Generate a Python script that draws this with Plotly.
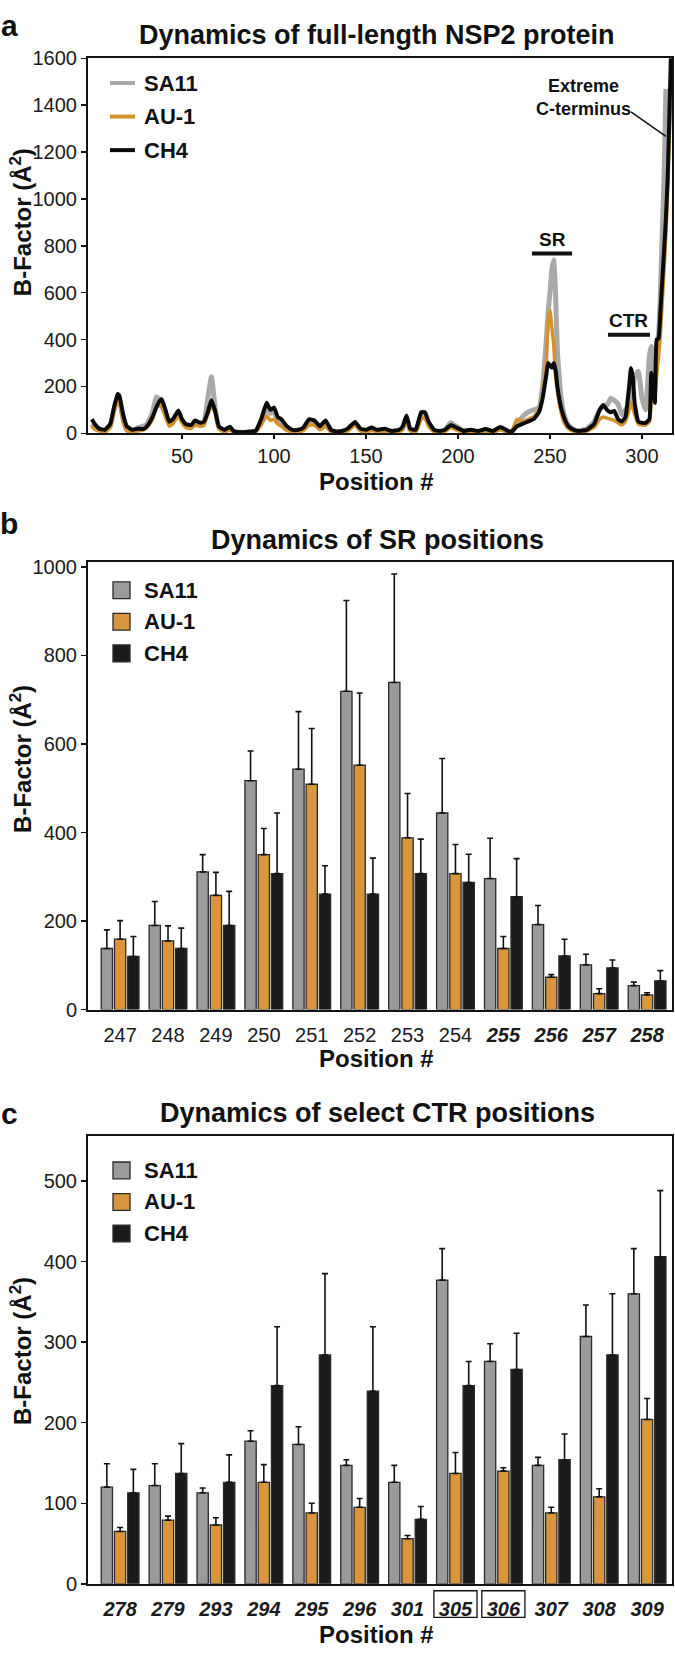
import plotly.graph_objects as go

W, H = 675, 1657
FONT = "Liberation Sans, Arial, Helvetica, sans-serif"

# ---------------- Panel a: full-length NSP2 B-factors ----------------
pos_a = [1, 3, 5, 8, 11, 13, 15, 16, 18, 20,
         23, 26, 29, 31, 34, 36, 38, 39, 41, 43,
         45, 48, 50, 52, 55, 57, 60, 62, 64, 66,
         68, 70, 73, 76, 78, 81, 84, 87, 90, 93,
         96, 98, 100, 102, 104, 107, 110, 113, 116, 119,
         122, 125, 128, 131, 134, 137, 140, 144, 147, 150,
         153, 156, 160, 164, 168, 170, 172, 174, 177, 180,
         182, 184, 187, 190, 193, 196, 199, 203, 207, 211,
         215, 219, 223, 226, 229, 232, 235, 238, 241, 244,
         246, 248, 249, 250, 251, 252, 253, 254, 256, 258,
         260, 263, 266, 270, 274, 277, 279, 281, 283, 285,
         287, 289, 291, 293, 294, 295, 296, 298, 300, 302,
         304, 305, 306, 307, 308, 309, 310, 311, 312, 313,
         314, 315, 316]

sa11_a = [40, 20, 15, 10, 30, 100, 150, 140, 60, 15,
          10, 25, 30, 40, 90, 155, 145, 130, 90, 40,
          55, 90, 55, 35, 30, 45, 40, 50, 150, 241,
          110, 25, 10, 20, 8, 5, 5, 5, 10, 50,
          110, 85, 90, 55, 45, 20, 10, 10, 20, 45,
          45, 25, 40, 10, 5, 8, 15, 40, 15, 10,
          20, 12, 15, 8, 12, 25, 65, 15, 10, 75,
          80, 40, 10, 8, 15, 45, 30, 10, 12, 8,
          15, 8, 20, 10, 5, 40, 70, 90, 100, 110,
          200, 400, 520, 600, 700, 740, 600, 350, 150, 70,
          35, 15, 10, 20, 50, 100, 120, 120, 150, 140,
          125, 80, 100, 130, 160, 200, 240, 265, 150, 100,
          330, 370, 250, 280, 380, 420, 600, 850, 1100, 1470,
          None, None, None]

au1_a = [30, 15, 10, 5, 25, 90, 140, 130, 50, 10,
         5, 10, 15, 25, 60, 110, 120, 110, 70, 30,
         40, 75, 45, 25, 20, 35, 30, 35, 80, 120,
         85, 20, 5, 15, 5, 2, 2, 3, 5, 35,
         75, 55, 60, 40, 30, 12, 5, 5, 12, 35,
         35, 15, 30, 5, 2, 5, 10, 35, 10, 5,
         12, 8, 10, 5, 8, 15, 55, 10, 5, 60,
         65, 30, 5, 3, 8, 25, 15, 5, 8, 5,
         10, 5, 15, 8, 5, 60, 50, 60, 70, 100,
         160, 300, 480, 525, 450, 380, 250, 180, 90, 40,
         20, 8, 5, 10, 25, 60, 70, 65, 60, 55,
         45, 35, 50, 100, 130, 110, 80, 40, 35, 35,
         50, 120, 200, 150, 250, 330, 420, 560, 700, 850,
         1050, 1300, 1500]

ch4_a = [60, 35, 20, 15, 40, 110, 168, 160, 80, 30,
         15, 20, 18, 30, 70, 110, 140, 145, 100, 50,
         60, 97, 60, 40, 35, 55, 45, 50, 90, 142,
         95, 30, 15, 28, 10, 5, 5, 8, 10, 60,
         130, 100, 110, 70, 60, 30, 15, 15, 25, 60,
         55, 30, 55, 15, 8, 10, 20, 48, 20, 15,
         25, 15, 20, 10, 15, 30, 76, 20, 15, 90,
         90, 50, 15, 10, 15, 35, 25, 10, 15, 10,
         18, 10, 27, 15, 5, 30, 40, 50, 60, 90,
         150, 250, 300, 290, 280, 300, 270, 200, 110, 60,
         30, 15, 10, 15, 40, 100, 120, 100, 90, 95,
         60, 50, 70, 200, 279, 240, 130, 50, 45, 45,
         60, 258, 200, 130, 400, 405, 520, 650, 780, 920,
         1100, 1400, 1700]

a_xticks = [50, 100, 150, 200, 250, 300]
a_yticks = [0, 200, 400, 600, 800, 1000, 1200, 1400, 1600]

# region markers (data units)
sr_span = [240.2, 262.0]
sr_level = 767
ctr_span = [281.5, 304.3]
ctr_level = 421

# ---------------- Panel b: SR positions ----------------
sr_positions = ["247", "248", "249", "250", "251", "252",
                "253", "254", "255", "256", "257", "258"]
sr_bold = ["255", "256", "257", "258"]
sr_sa11 = [138, 190, 311, 517, 543, 719, 739, 444, 296, 192, 101, 54]
sr_sa11_err = [42, 54, 39, 67, 130, 205, 245, 123, 91, 43, 24, 8]
sr_au1 = [159, 155, 258, 350, 509, 552, 388, 307, 138, 73, 36, 33]
sr_au1_err = [42, 34, 52, 59, 126, 163, 100, 66, 27, 6, 11, 5]
sr_ch4 = [120, 138, 190, 307, 261, 261, 307, 287, 255, 121, 94, 65]
sr_ch4_err = [45, 46, 77, 137, 64, 81, 78, 64, 86, 38, 18, 23]
b_yticks = [0, 200, 400, 600, 800, 1000]

# ---------------- Panel c: select CTR positions ----------------
ctr_positions = ["278", "279", "293", "294", "295", "296",
                 "301", "305", "306", "307", "308", "309"]
ctr_boxed = ["305", "306"]
ctr_sa11 = [120, 122, 113, 177, 173, 147, 126, 377, 276, 147, 307, 360]
ctr_sa11_err = [29, 27, 6, 13, 22, 7, 21, 39, 22, 10, 39, 56]
ctr_au1 = [65, 79, 73, 126, 88, 95, 56, 137, 140, 88, 108, 204]
ctr_au1_err = [5, 5, 9, 22, 12, 11, 4, 26, 4, 7, 10, 26]
ctr_ch4 = [113, 137, 126, 246, 284, 239, 80, 246, 266, 154, 284, 406]
ctr_ch4_err = [29, 37, 34, 73, 101, 80, 16, 30, 45, 32, 76, 82]
c_yticks = [0, 100, 200, 300, 400, 500]

series_names = ["SA11", "AU-1", "CH4"]

# ---------------- styles ----------------
LINE_COLORS = ["#a9a9a9", "#d4922f", "#0a0a0a"]
LINE_WIDTHS = [5, 3.5, 4]
BAR_COLORS = ["#9b9b9b", "#d9963c", "#1b1b1b"]
AXIS_COLOR = "#141414"


def X(p):
    return p / W


def Y(p):
    return 1 - p / H


fig = go.Figure()

# Panel a lines
for name, vals, col, lw in zip(series_names, [sa11_a, au1_a, ch4_a], LINE_COLORS, LINE_WIDTHS):
    fig.add_trace(go.Scatter(
        x=pos_a, y=vals, mode="lines", name=name,
        line=dict(color=col, width=lw, shape="spline", smoothing=0.4),
        xaxis="x", yaxis="y", showlegend=False, connectgaps=False,
        hoverinfo="skip"))


# Panel b/c bars
def add_bars(cats, vals_list, errs_list, xa, ya):
    for name, vals, errs, col in zip(series_names, vals_list, errs_list, BAR_COLORS):
        fig.add_trace(go.Bar(
            x=cats, y=vals, name=name,
            marker=dict(color=col, line=dict(color="#2a2a2a", width=1.3)),
            error_y=dict(type="data", symmetric=False, array=errs,
                         arrayminus=[0] * len(errs), color="#111111",
                         thickness=1.6, width=3),
            xaxis=xa, yaxis=ya, showlegend=False, hoverinfo="skip"))


add_bars(sr_positions, [sr_sa11, sr_au1, sr_ch4],
         [sr_sa11_err, sr_au1_err, sr_ch4_err], "x2", "y2")
add_bars(ctr_positions, [ctr_sa11, ctr_au1, ctr_ch4],
         [ctr_sa11_err, ctr_au1_err, ctr_ch4_err], "x3", "y3")

tickfont = dict(family=FONT, size=20, color="#1a1a1a")
common_axis = dict(showline=True, linecolor=AXIS_COLOR, linewidth=2, mirror=True,
                   showgrid=False, zeroline=False, tickfont=tickfont)

x_dom = [X(88), X(672)]
fig.update_layout(
    width=W, height=H, autosize=False,
    margin=dict(l=0, r=0, t=0, b=0),
    paper_bgcolor="white", plot_bgcolor="white",
    barmode="group", bargap=0.17, bargroupgap=0.15,
    font=dict(family=FONT),
    xaxis=dict(domain=x_dom, range=[-1.1, 316.3], anchor="y",
               tickvals=a_xticks, ticks="outside", ticklen=4, tickwidth=1.5,
               tickcolor=AXIS_COLOR, **common_axis),
    yaxis=dict(domain=[Y(428), Y(48)], range=[0, 1600], anchor="x",
               tickvals=a_yticks, ticks="outside", ticklen=5, tickwidth=1.5,
               tickcolor=AXIS_COLOR, **common_axis),
    xaxis2=dict(domain=x_dom, range=[-0.67, 11.52], anchor="y2", type="category",
                tickvals=sr_positions,
                ticktext=[f"<b><i>{p}</i></b>" if p in sr_bold else p for p in sr_positions],
                ticks="", ticklabelstandoff=6, **common_axis),
    yaxis2=dict(domain=[Y(1012), Y(558)], range=[0, 1012], anchor="x2",
                tickvals=b_yticks, ticks="outside", ticklen=5, tickwidth=1.5,
                tickcolor=AXIS_COLOR, **common_axis),
    xaxis3=dict(domain=x_dom, range=[-0.67, 11.52], anchor="y3", type="category",
                tickvals=ctr_positions,
                ticktext=[f"<b><i>{p}</i></b>" for p in ctr_positions],
                ticks="", ticklabelstandoff=6, **common_axis),
    yaxis3=dict(domain=[Y(1594), Y(1140)], range=[0, 556], anchor="x3",
                tickvals=c_yticks, ticks="outside", ticklen=5, tickwidth=1.5,
                tickcolor=AXIS_COLOR, **common_axis),
)

annotations = []
shapes = []


def txt(text, x, y, size, anchor="center", angle=0, color="#111111"):
    annotations.append(dict(
        text=text, x=X(x), y=Y(y), xref="paper", yref="paper",
        xanchor=anchor, yanchor="middle", showarrow=False, textangle=angle,
        font=dict(family=FONT, size=size, color=color)))


# panel letters and titles
txt("<b>a</b>", 9, 15, 30)
txt("<b>b</b>", 9, 519, 30)
txt("<b>c</b>", 9, 1117, 30)
txt("<b>Dynamics of full-length NSP2 protein</b>", 377, 24, 27)
txt("<b>Dynamics of SR positions</b>", 377, 536, 27)
txt("<b>Dynamics of select CTR positions</b>", 377, 1117, 27)

# axis titles
for yx in [477, 1062, 1645]:
    txt("<b>Position #</b>", 376, yx, 24)
for yy in [214, 758, 1358]:
    txt("<b>B-Factor (Å<sup>2</sup>)</b>", 21, yy, 24, angle=-90)

# legends
leg_a = [73, 107, 141]
for name, col, yy in zip(series_names, LINE_COLORS, leg_a):
    shapes.append(dict(type="line", xref="paper", yref="paper",
                       x0=X(110), x1=X(135), y0=Y(yy), y1=Y(yy),
                       line=dict(color=col, width=4)))
    txt(f"<b>{name}</b>", 142, yy, 22, anchor="left")

for leg_y in ([587, 619, 651], [1175, 1207, 1239]):
    for name, col, yy in zip(series_names, BAR_COLORS, leg_y):
        shapes.append(dict(type="rect", xref="paper", yref="paper",
                           x0=X(113), x1=X(130), y0=Y(yy + 8.5), y1=Y(yy - 8.5),
                           fillcolor=col, line=dict(color="#2a2a2a", width=1.3)))
        txt(f"<b>{name}</b>", 142, yy, 22, anchor="left")

# panel a region markers
shapes.append(dict(type="line", xref="x", yref="y", x0=sr_span[0], x1=sr_span[1],
                   y0=sr_level, y1=sr_level, line=dict(color="#111", width=4)))
shapes.append(dict(type="line", xref="x", yref="y", x0=ctr_span[0], x1=ctr_span[1],
                   y0=ctr_level, y1=ctr_level, line=dict(color="#111", width=4)))
annotations.append(dict(text="<b>SR</b>", x=sum(sr_span) / 2, y=sr_level, xref="x", yref="y",
                        yshift=14, showarrow=False, yanchor="middle",
                        font=dict(family=FONT, size=19, color="#111")))
annotations.append(dict(text="<b>CTR</b>", x=sum(ctr_span) / 2, y=ctr_level, xref="x", yref="y",
                        yshift=14, showarrow=False, yanchor="middle",
                        font=dict(family=FONT, size=19, color="#111")))
txt("<b>Extreme<br>C-terminus</b>", 583, 88, 18)
shapes.append(dict(type="line", xref="x", yref="y", x0=294, y0=1372, x1=313, y1=1267,
                   line=dict(color="#111", width=1.5)))

# boxes around highlighted CTR labels
for p in ctr_boxed:
    i = ctr_positions.index(p)
    shapes.append(dict(type="rect", xref="x3", yref="paper",
                       x0=i - 0.45, x1=i + 0.45, y0=Y(1628), y1=Y(1601),
                       line=dict(color="#111", width=1.3)))

fig.update_layout(annotations=annotations, shapes=shapes)
fig.write_html(
    "out.html",
    config={"displayModeBar": False, "staticPlot": True},
    post_script="document.body.style.margin='0';document.body.style.padding='0';"
                "document.body.style.overflow='hidden';"
                "document.documentElement.style.overflow='hidden';",
)
